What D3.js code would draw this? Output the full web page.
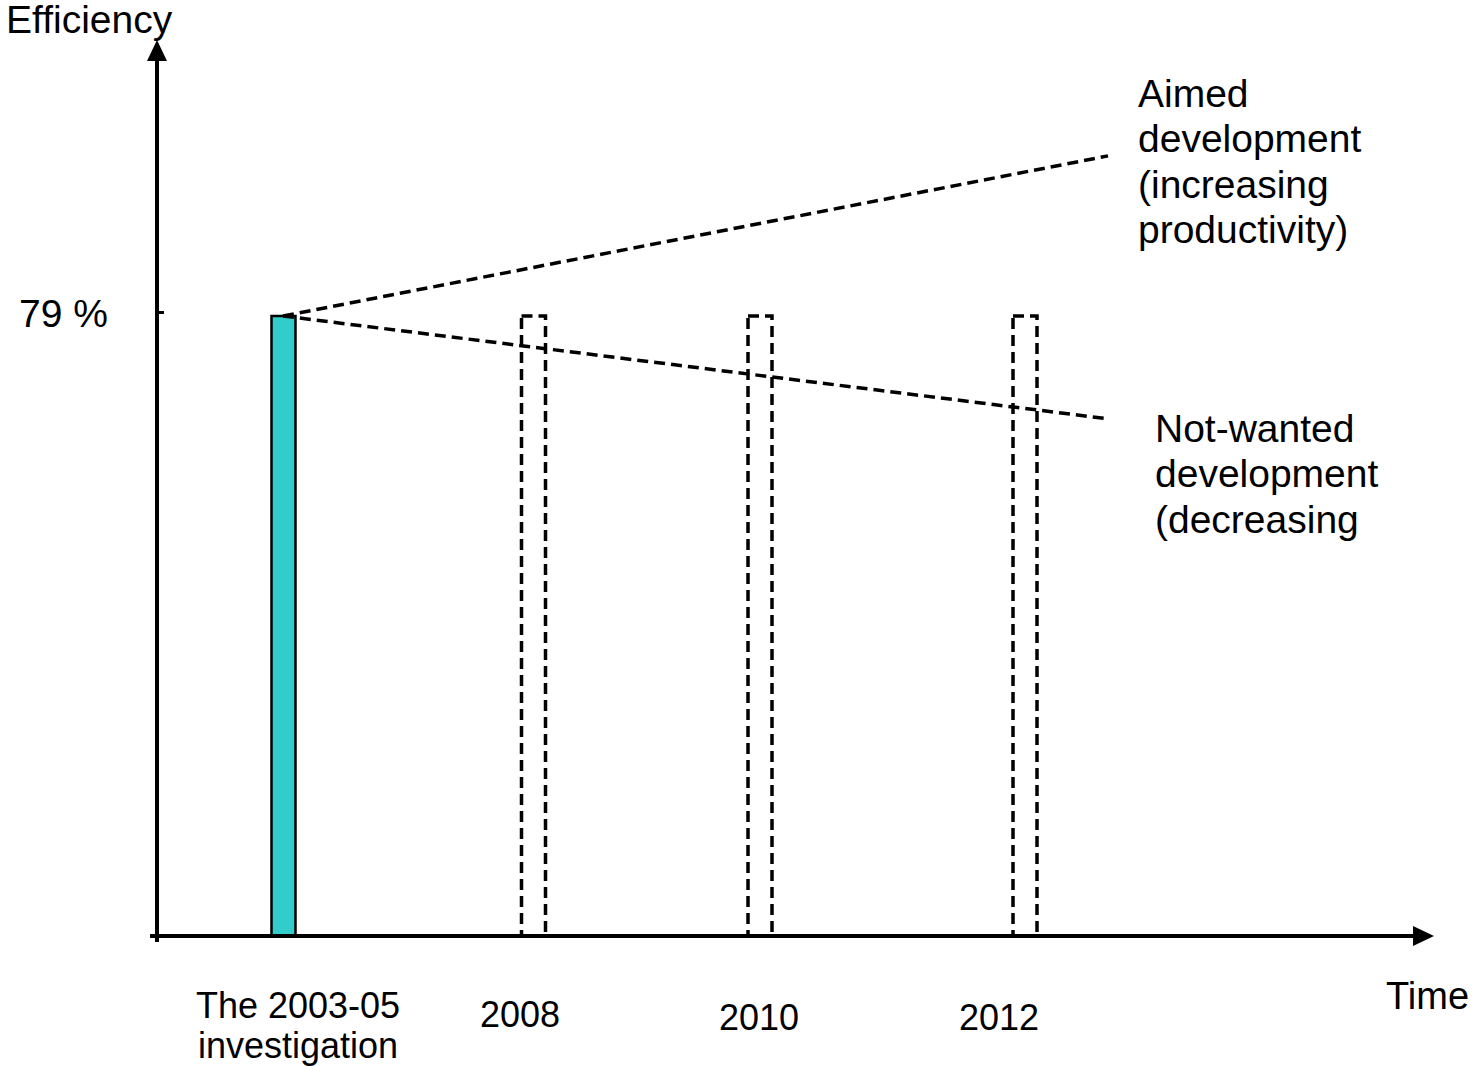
<!DOCTYPE html>
<html>
<head>
<meta charset="utf-8">
<script src="https://cdn.jsdelivr.net/npm/d3@7"></script>
<style>
  html, body { margin: 0; padding: 0; background: #fff; }
  svg { display: block; font-family: Arial, "Liberation Sans", Helvetica, sans-serif; }
</style>
</head>
<body>
<svg id="chart" width="1477" height="1066"></svg>
<script>
// Measurement periods on the time axis
const periods = ["2003-05", "2008", "2010", "2012"];
const periodLabels = [["The 2003-05", "investigation"], ["2008"], ["2010"], ["2012"]];
// Efficiency (%) measured in the first period; later periods are still open
const measured = [79, null, null, null];
const planned = [false, true, true, true];

// Scenario trend lines: efficiency at the start and end of the horizon
const trendPoints = ["start", "end"];
const aimedTrend = [79, 99.4];
const notWantedTrend = [79, 65.9];
const aimedLabel = ["Aimed", "development", "(increasing", "productivity)"];
const notWantedLabel = ["Not-wanted", "development", "(decreasing"];

const yTicks = [79];

const svg = d3.select("#chart");

const originX = 157, originY = 936;
const y = d3.scaleLinear().domain([0, 100]).range([originY, originY - 100 * 620 / 79]);
const x = d3.scaleOrdinal().domain(periods).range([283.5, 533.5, 760, 1025]);
const xLabel = d3.scaleOrdinal().domain(periods).range([298, 520, 759, 999]);
const xTrend = d3.scaleOrdinal().domain(trendPoints).range([283, 1108]);
const labelBaseline = d3.scaleOrdinal().domain(periods).range([1018, 1027, 1030, 1030]);
const barW = 24;
const dash = "11,6";

// Measured bar
const bars = periods.map((p, i) => ({ p, v: measured[i], planned: planned[i] }));
svg.append("g").selectAll("rect.measured")
  .data(bars.filter(d => !d.planned))
  .join("rect")
  .attr("x", d => x(d.p) - barW / 2)
  .attr("y", d => y(d.v))
  .attr("width", barW)
  .attr("height", d => y(0) - y(d.v))
  .attr("fill", "#33CCCC")
  .attr("stroke", "#000")
  .attr("stroke-width", 2.5);

// Future measurements, outlined at the current level
svg.append("g").selectAll("rect.planned")
  .data(bars.filter(d => d.planned))
  .join("rect")
  .attr("x", d => x(d.p) - barW / 2)
  .attr("y", y(measured[0]))
  .attr("width", barW)
  .attr("height", y(0) - y(measured[0]))
  .attr("fill", "none")
  .attr("stroke", "#000")
  .attr("stroke-width", 3.5)
  .attr("stroke-dasharray", dash);

// Scenario lines
const line = d3.line().x(d => xTrend(d.t)).y(d => y(d.v));
[aimedTrend, notWantedTrend].forEach(series => {
  svg.append("path")
    .datum(trendPoints.map((t, i) => ({ t, v: series[i] })))
    .attr("d", line)
    .attr("fill", "none")
    .attr("stroke", "#000")
    .attr("stroke-width", 3.5)
    .attr("stroke-dasharray", dash);
});

// Axes with arrowheads
const axisG = svg.append("g");
axisG.append("line")
  .attr("x1", originX).attr("x2", originX)
  .attr("y1", originY + 6).attr("y2", 56)
  .attr("stroke", "#000").attr("stroke-width", 4);
axisG.append("path")
  .attr("d", `M${originX},40 L${originX - 10},61 L${originX + 10},61 Z`)
  .attr("fill", "#000");
axisG.append("line")
  .attr("x1", originX - 7).attr("x2", 1418)
  .attr("y1", originY).attr("y2", originY)
  .attr("stroke", "#000").attr("stroke-width", 4);
axisG.append("path")
  .attr("d", `M1434,${originY} L1413,${originY - 10} L1413,${originY + 10} Z`)
  .attr("fill", "#000");

// Y tick and label
const yAxis = d3.axisLeft(y)
  .tickValues(yTicks)
  .tickSize(-7)
  .tickPadding(49)
  .tickFormat(d => d + " %");
const yAxisG = svg.append("g")
  .attr("transform", `translate(${originX},-4)`)
  .call(yAxis);
yAxisG.select(".domain").remove();
yAxisG.selectAll(".tick line").attr("stroke", "#000").attr("stroke-width", 3);
yAxisG.selectAll(".tick text")
  .attr("font-size", 39)
  .attr("font-family", "Arial, 'Liberation Sans', sans-serif")
  .attr("fill", "#000")
  .attr("dy", "0.36em");

// Period labels
const labG = svg.append("g")
  .attr("font-size", 36)
  .attr("text-anchor", "middle")
  .attr("fill", "#000");
periods.forEach((p, i) => {
  periodLabels[i].forEach((txt, j) => {
    labG.append("text")
      .attr("x", xLabel(p))
      .attr("y", labelBaseline(p) + j * 40)
      .text(txt);
  });
});

// Axis titles
svg.append("text")
  .attr("x", 6).attr("y", 33)
  .attr("font-size", 39)
  .text("Efficiency");
svg.append("text")
  .attr("x", 1386).attr("y", 1009)
  .attr("font-size", 38)
  .text("Time");

// Scenario annotations
function block(lines, x0, y0) {
  const t = svg.append("text").attr("font-size", 39).attr("fill", "#000");
  lines.forEach((s, i) => {
    t.append("tspan").attr("x", x0).attr("y", y0 + i * 45.3).text(s);
  });
}
block(aimedLabel, 1138, 107);
block(notWantedLabel, 1155, 442);
</script>
</body>
</html>
